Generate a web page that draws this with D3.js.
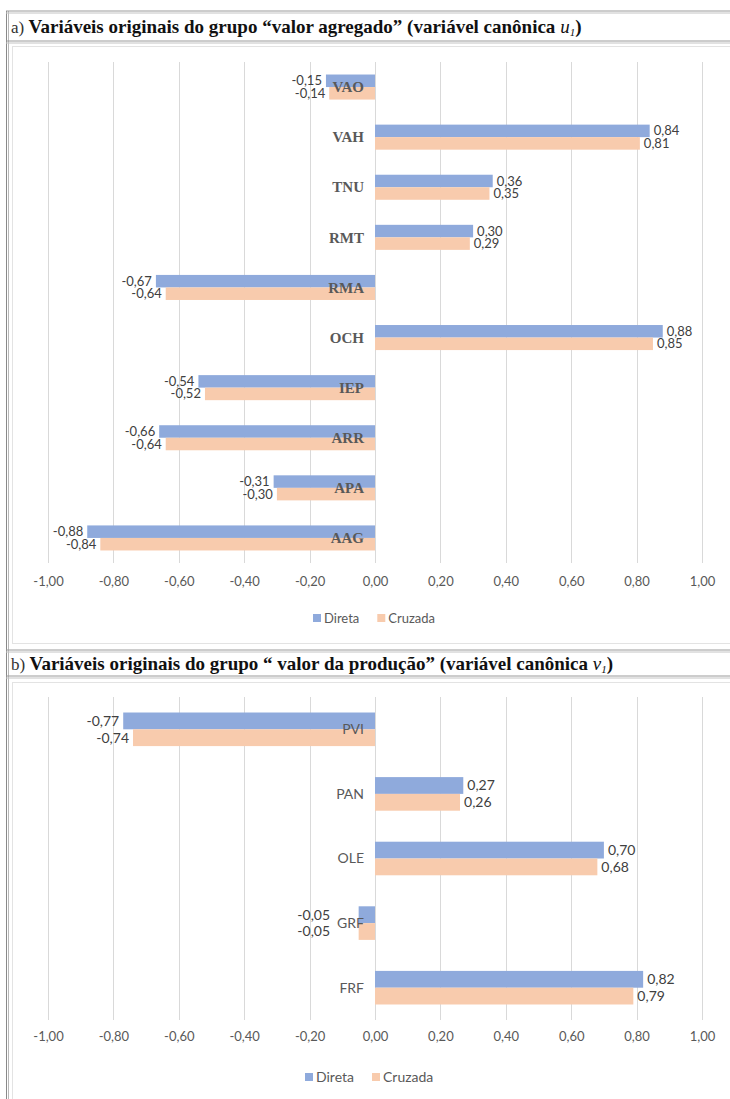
<!DOCTYPE html>
<html>
<head>
<meta charset="utf-8">
<script src="https://cdn.jsdelivr.net/npm/d3@7"></script>
<style>
  html, body { margin: 0; padding: 0; background: #fff; }
  svg { display: block; }
</style>
</head>
<body>
<svg id="chart" width="730" height="1099"></svg>
<script>
// Panel a: original variables of the "valor agregado" group
const categoriesA = ["VAO", "VAH", "TNU", "RMT", "RMA", "OCH", "IEP", "ARR", "APA", "AAG"];
const diretaA   = [-0.15, 0.84, 0.36, 0.30, -0.67, 0.88, -0.54, -0.66, -0.31, -0.88];
const cruzadaA  = [-0.14, 0.81, 0.35, 0.29, -0.64, 0.85, -0.52, -0.64, -0.30, -0.84];

// Panel b: original variables of the "valor da produção" group
const categoriesB = ["PVI", "PAN", "OLE", "GRF", "FRF"];
const diretaB   = [-0.77, 0.27, 0.70, -0.05, 0.82];
const cruzadaB  = [-0.74, 0.26, 0.68, -0.05, 0.79];

const seriesNames = ["Direta", "Cruzada"];
const tickValues = [-1, -0.8, -0.6, -0.4, -0.2, 0, 0.2, 0.4, 0.6, 0.8, 1];

const colors = { Direta: "#8FAADC", Cruzada: "#F8CBAD" };
const ptBR = d3.formatLocale({ decimal: ",", thousands: ".", grouping: [3], currency: ["R$", ""], minus: "-" });
const fmt = ptBR.format(".2f");

const svg = d3.select("#chart");
const sansFont = "Lato, 'Open Sans', sans-serif";
const serifFont = "'Liberation Serif', 'Times New Roman', serif";

// ---- frame: double rules round the two panels ----
const frame = svg.append("g");
function hRule(y) {
  frame.append("line").attr("x1", 6).attr("x2", 730).attr("y1", y).attr("y2", y)
    .attr("stroke", "#9a9a9a").attr("stroke-width", 1);
  frame.append("line").attr("x1", 6).attr("x2", 730).attr("y1", y + 2).attr("y2", y + 2)
    .attr("stroke", "#c4c4c4").attr("stroke-width", 1);
}
frame.append("line").attr("x1", 6.5).attr("x2", 6.5).attr("y1", 11).attr("y2", 1099)
  .attr("stroke", "#8a8a8a").attr("stroke-width", 1);
frame.append("line").attr("x1", 8.5).attr("x2", 8.5).attr("y1", 11).attr("y2", 1099)
  .attr("stroke", "#b8b8b8").attr("stroke-width", 1);
[11, 41, 650, 676].forEach(hRule);

// chart-area borders
frame.append("rect").attr("x", 12.5).attr("y", 46.5).attr("width", 740).attr("height", 597)
  .attr("fill", "none").attr("stroke", "#e3e3e3");
frame.append("rect").attr("x", 12.5).attr("y", 682.5).attr("width", 740).attr("height", 500)
  .attr("fill", "none").attr("stroke", "#e3e3e3");

// ---- titles ----
function title(y, letter, text, sym) {
  const t = svg.append("text").attr("x", 11).attr("y", y)
    .attr("fill", "#111").attr("font-size", 19);
  t.append("tspan").attr("font-family", serifFont).attr("font-size", 17).attr("fill", "#333").text(letter + ") ");
  t.append("tspan").attr("font-family", serifFont).attr("font-weight", "bold").text(text);
  t.append("tspan").attr("font-family", serifFont).attr("font-style", "italic").text(sym);
  t.append("tspan").attr("font-family", serifFont).attr("font-style", "italic")
    .attr("font-size", 11).attr("dy", 3).text("1");
  t.append("tspan").attr("font-family", serifFont).attr("font-weight", "bold").attr("dy", -3).text(")");
}
title(33, "a", "Variáveis originais do grupo “valor agregado” (variável canônica ", "u");
title(670, "b", "Variáveis originais do grupo “ valor da produção” (variável canônica ", "v");

// ---- one grouped horizontal bar panel ----
function panel(opts) {
  const { cats, dir, cru, top, bottom, padIn, tickY, legendY, catFont, catSize, catWeight,
          labelSize, legendSize, legendX } = opts;
  const g = svg.append("g");
  const x = d3.scaleLinear().domain([-1, 1]).range([48, 702]);
  const y = d3.scaleBand().domain(cats).range([top, bottom])
    .paddingInner(padIn).paddingOuter(padIn / 2);
  const ySub = d3.scaleBand().domain(seriesNames).range([0, y.bandwidth()]);

  // vertical gridlines
  g.append("g").selectAll("line").data(tickValues).join("line")
    .attr("x1", d => Math.round(x(d)) + 0.5).attr("x2", d => Math.round(x(d)) + 0.5)
    .attr("y1", top).attr("y2", bottom)
    .attr("stroke", "#d9d9d9").attr("stroke-width", 1);

  // axis tick labels
  const axis = d3.axisBottom(x).tickValues(tickValues).tickFormat(fmt).tickSize(0).tickPadding(0);
  const ax = g.append("g").attr("transform", `translate(0,${tickY})`).call(axis);
  ax.select(".domain").remove();
  ax.selectAll("text").attr("font-family", sansFont).attr("font-size", 13)
    .attr("fill", "#595959").attr("dy", "0.35em").attr("y", 0);

  const rows = cats.map((c, i) => ({ cat: c, vals: [
    { s: "Direta", v: dir[i] }, { s: "Cruzada", v: cru[i] } ] }));

  const row = g.append("g").selectAll("g").data(rows).join("g")
    .attr("transform", d => `translate(0,${y(d.cat)})`);

  row.selectAll("rect").data(d => d.vals).join("rect")
    .attr("x", d => x(Math.min(0, d.v)))
    .attr("width", d => Math.abs(x(d.v) - x(0)))
    .attr("y", d => ySub(d.s))
    .attr("height", ySub.bandwidth())
    .attr("fill", d => colors[d.s]);

  // category labels beside the zero line
  const catLabels = row.append("text")
    .attr("x", x(0) - 11)
    .attr("y", y.bandwidth() / 2)
    .attr("dy", "0.35em")
    .attr("text-anchor", "end")
    .attr("font-family", catFont).attr("font-size", catSize).attr("font-weight", catWeight)
    .attr("fill", "#595959")
    .text(d => d.cat);
  const catLeft = {};
  catLabels.each(function (d) { catLeft[d.cat] = x(0) - 11 - this.getComputedTextLength(); });

  // value labels at the bar ends; short negative bars push their labels
  // past the category name so the two never collide
  row.each(function (r) {
    d3.select(this).selectAll("text.val").data(r.vals).join("text")
      .attr("class", "val")
      .attr("x", d => d.v >= 0 ? x(d.v) + 4 : Math.min(x(d.v) - 4, catLeft[r.cat] - 7))
      .attr("y", d => ySub(d.s) + ySub.bandwidth() / 2)
      .attr("dy", "0.35em")
      .attr("text-anchor", d => d.v >= 0 ? "start" : "end")
      .attr("font-family", sansFont).attr("font-size", labelSize)
      .attr("fill", "#404040")
      .text(d => fmt(d.v));
  });
  catLabels.raise();

  // legend
  const lg = g.append("g").attr("transform", `translate(${legendX},${legendY})`);
  let lx = 0;
  seriesNames.forEach(s => {
    lg.append("rect").attr("x", lx).attr("y", -4).attr("width", 8).attr("height", 8).attr("fill", colors[s]);
    const t = lg.append("text").attr("x", lx + 11).attr("y", 0).attr("dy", "0.35em")
      .attr("font-family", sansFont).attr("font-size", legendSize).attr("fill", "#595959").text(s);
    lx += 11 + t.node().getComputedTextLength() + 18;
  });
}

panel({ cats: categoriesA, dir: diretaA, cru: cruzadaA, top: 62, bottom: 563, padIn: 0.5,
        tickY: 581, legendY: 618, catFont: serifFont, catSize: 15, catWeight: "bold",
        labelSize: 13, legendSize: 13, legendX: 313 });

panel({ cats: categoriesB, dir: diretaB, cru: cruzadaB, top: 697, bottom: 1020, padIn: 0.48,
        tickY: 1036, legendY: 1077, catFont: sansFont, catSize: 14, catWeight: "normal",
        labelSize: 14, legendSize: 14, legendX: 305 });
</script>
</body>
</html>
